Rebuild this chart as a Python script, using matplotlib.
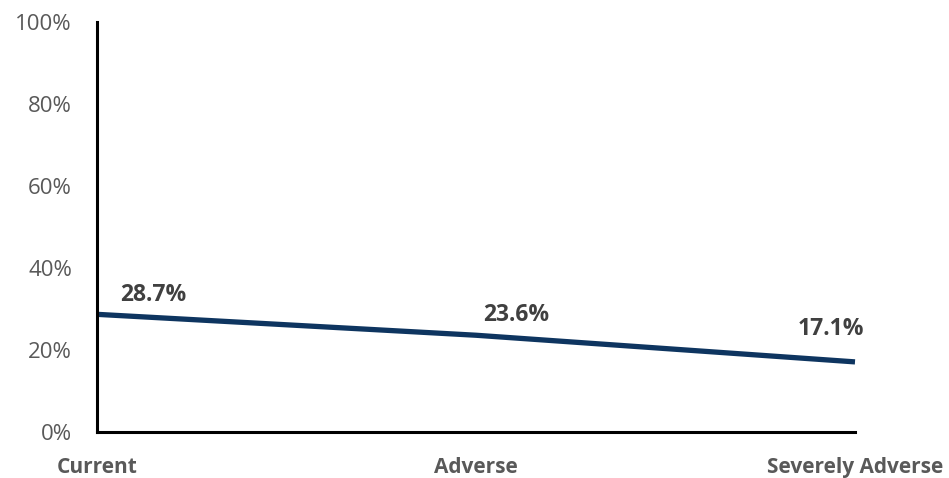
import matplotlib
matplotlib.use("Agg")
import matplotlib.pyplot as plt
from matplotlib.ticker import FuncFormatter

categories = ["Current", "Adverse", "Severely Adverse"]
values = [28.7, 23.6, 17.1]
label_texts = ["28.7%", "23.6%", "17.1%"]
y_ticks = [0, 20, 40, 60, 80, 100]

label_offsets = [(56, 19), (40, 20), (-24, 33)]

plt.rcParams['font.family'] = ['Open Sans', 'DejaVu Sans']

fig = plt.figure(figsize=(9.49, 4.78), dpi=100)
ax = fig.add_axes([97/949, 46/478, 758/949, 410/478])

x = list(range(len(categories)))
ax.plot(x, values, color="#0e3560", linewidth=3.8, solid_capstyle="butt", clip_on=False)

for xi, v, t, off in zip(x, values, label_texts, label_offsets):
    ax.annotate(t, (xi, v), xytext=off, textcoords="offset pixels",
                ha="center", va="center", fontsize=16.5, fontweight="bold", color="#404040")

ax.set_xlim(0, len(categories) - 1)
ax.set_ylim(0, 100)
ax.set_yticks(y_ticks)
ax.yaxis.set_major_formatter(FuncFormatter(lambda v, p: f"{int(v)}%"))
ax.set_xticks(x)
ax.set_xticklabels(categories, fontsize=15, fontweight="bold", color="#595959")
ax.tick_params(axis="y", length=0, pad=18, labelsize=16, labelcolor="#595959")
ax.tick_params(axis="x", length=0, pad=18)

for s in ["top", "right"]:
    ax.spines[s].set_visible(False)
for s in ["left", "bottom"]:
    ax.spines[s].set_linewidth(2.2)
    ax.spines[s].set_color("black")

fig.savefig("out.png", dpi=100)
